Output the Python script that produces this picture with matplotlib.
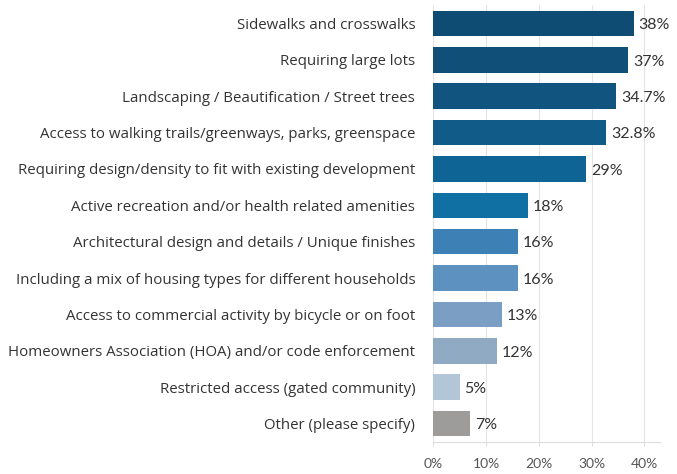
import numpy as np
import matplotlib.pyplot as plt

categories = [
    "Sidewalks and crosswalks",
    "Requiring large lots",
    "Landscaping / Beautification / Street trees",
    "Access to walking trails/greenways, parks, greenspace",
    "Requiring design/density to fit with existing development",
    "Active recreation and/or health related amenities",
    "Architectural design and details / Unique finishes",
    "Including a mix of housing types for different households",
    "Access to commercial activity by bicycle or on foot",
    "Homeowners Association (HOA) and/or code enforcement",
    "Restricted access (gated community)",
    "Other (please specify)",
]
values = [38, 37, 34.7, 32.8, 29, 18, 16, 16, 13, 12, 5, 7]
value_labels = ["38%", "37%", "34.7%", "32.8%", "29%", "18%", "16%", "16%",
                "13%", "12%", "5%", "7%"]
colors = ["#0f4c73", "#104f77", "#11547f", "#115b88", "#0e6595", "#1070a4",
          "#3d80b6", "#5c91c0", "#7b9fc4", "#91aac3", "#b3c6d8", "#9e9c9b"]
xticks = [0, 10, 20, 30, 40]

fig = plt.figure(figsize=(6.77, 4.74), dpi=100)
ax = fig.add_axes([0.64, 0.068, 0.335, 0.921])

y = np.arange(len(categories))
ax.barh(y, values, height=0.7, color=colors, zorder=2)

for yi, v, lab in zip(y, values, value_labels):
    ax.text(v + 0.9, yi + 0.05, lab, va="center", ha="left", fontsize=11.5,
            color="#333333", family="Lato")

ax.set_ylim(len(categories) - 0.5, -0.5)
ax.set_xlim(0, 43)
ax.set_yticks(y)
ax.set_yticklabels(categories, fontsize=10.8, color="#333333", family="Open Sans")
ax.set_xticks(xticks)
ax.set_xticklabels([f"{t}%" for t in xticks], fontsize=10, color="#555555",
                   family="Lato")
ax.tick_params(axis="y", length=0, pad=13)
ax.tick_params(axis="x", length=3, color="#dddddd", pad=9)

ax.grid(axis="x", color="#e4e4e4", linewidth=0.8, zorder=0)
for side in ["top", "right", "left"]:
    ax.spines[side].set_visible(False)
ax.spines["bottom"].set_color("#dddddd")

fig.savefig("out.png", dpi=100)
